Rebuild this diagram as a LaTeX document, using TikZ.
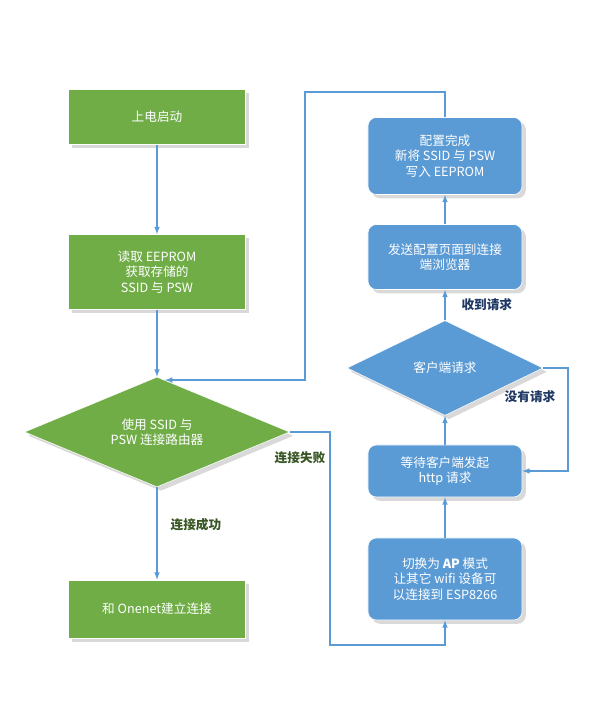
\documentclass[tikz,border=0pt]{standalone}
\usepackage{fontspec}
\setmainfont{Noto Sans CJK SC}
\usetikzlibrary{shapes.geometric,shadows,calc}
\definecolor{gbox}{HTML}{70AD47}
\definecolor{bbox}{HTML}{5B9BD5}
\definecolor{glab}{HTML}{375623}
\definecolor{blab}{HTML}{1F3864}
\tikzset{
  gstep/.style={rectangle,fill=gbox,draw=white,text=white,minimum width=4.425cm,align=center,font=\small,drop shadow={opacity=0.3}},
  bstep/.style={rectangle,rounded corners=6pt,fill=bbox,draw=white,text=white,minimum width=3.85cm,align=center,font=\small,drop shadow={opacity=0.3}},
  gdec/.style={diamond,aspect=2.4,fill=gbox,draw=white,text=white,align=center,font=\small,inner sep=0pt,minimum width=6.625cm,minimum height=2.75cm,drop shadow={opacity=0.3}},
  bdec/.style={diamond,aspect=2.06,fill=bbox,draw=white,text=white,align=center,font=\small,inner sep=0pt,minimum width=4.9cm,minimum height=2.375cm,drop shadow={opacity=0.3}},
  flow/.style={draw=bbox,thick,-latex},
  glabel/.style={text=glab,font=\small\bfseries},
  blabel/.style={text=blab,font=\small\bfseries}
}
\begin{document}
\begin{tikzpicture}[x=0.025cm,y=-0.025cm]
  \useasboundingbox (0,0) rectangle (600,710);
  % left column
  \node[gstep,minimum height=1.375cm] (power) at (157,117) {上电启动};
  \node[gstep,minimum height=1.875cm] (read) at (157,272) {读取 EEPROM\\获取存储的\\SSID 与 PSW};
  \node[gdec] (join) at (157,432) {使用 SSID 与\\PSW 连接路由器};
  \node[gstep,minimum height=1.45cm] (cloud) at (157,609) {和 Onenet建立连接};
  % right column
  \node[bstep,minimum height=1.925cm] (done) at (445,156) {配置完成\\新将 SSID 与 PSW\\写入 EEPROM};
  \node[bstep,minimum height=1.625cm] (send) at (445,257) {发送配置页面到连接\\端浏览器};
  \node[bdec] (client) at (445,368) {客户端请求};
  \node[bstep,minimum height=1.3cm] (wait) at (445,471) {等待客户端发起\\http 请求};
  \node[bstep,minimum height=2.05cm] (ap) at (445,579) {切换为 \textbf{AP} 模式\\让其它 wifi 设备可\\以连接到 ESP8266};
  \coordinate (hit) at ($(join.north)!0.06!(join.east)$);
  % connectors
  \draw[flow] (power) -- (read);
  \draw[flow] (read) -- (join);
  \draw[flow] (join) -- node[glabel,right=6pt,pos=0.4] {连接成功} (cloud);
  \draw[flow] (join.east) -- (330,432) -- (330,645) -| (ap.south);
  \node[glabel] (fail) at (300,458) {连接失败};
  \draw[flow] (ap) -- (wait);
  \draw[flow] (wait) -- (client);
  \draw[flow] (client) -- node[blabel,right=8pt] {收到请求} (send);
  \draw[flow] (client.east) -- (568,368) |- (wait.east);
  \node[blabel] (none) at (530,397) {没有请求};
  \draw[flow] (send) -- (done);
  \draw[flow] (done.north) -- (445,92) -- (305,92) |- (hit);
\end{tikzpicture}
\end{document}
